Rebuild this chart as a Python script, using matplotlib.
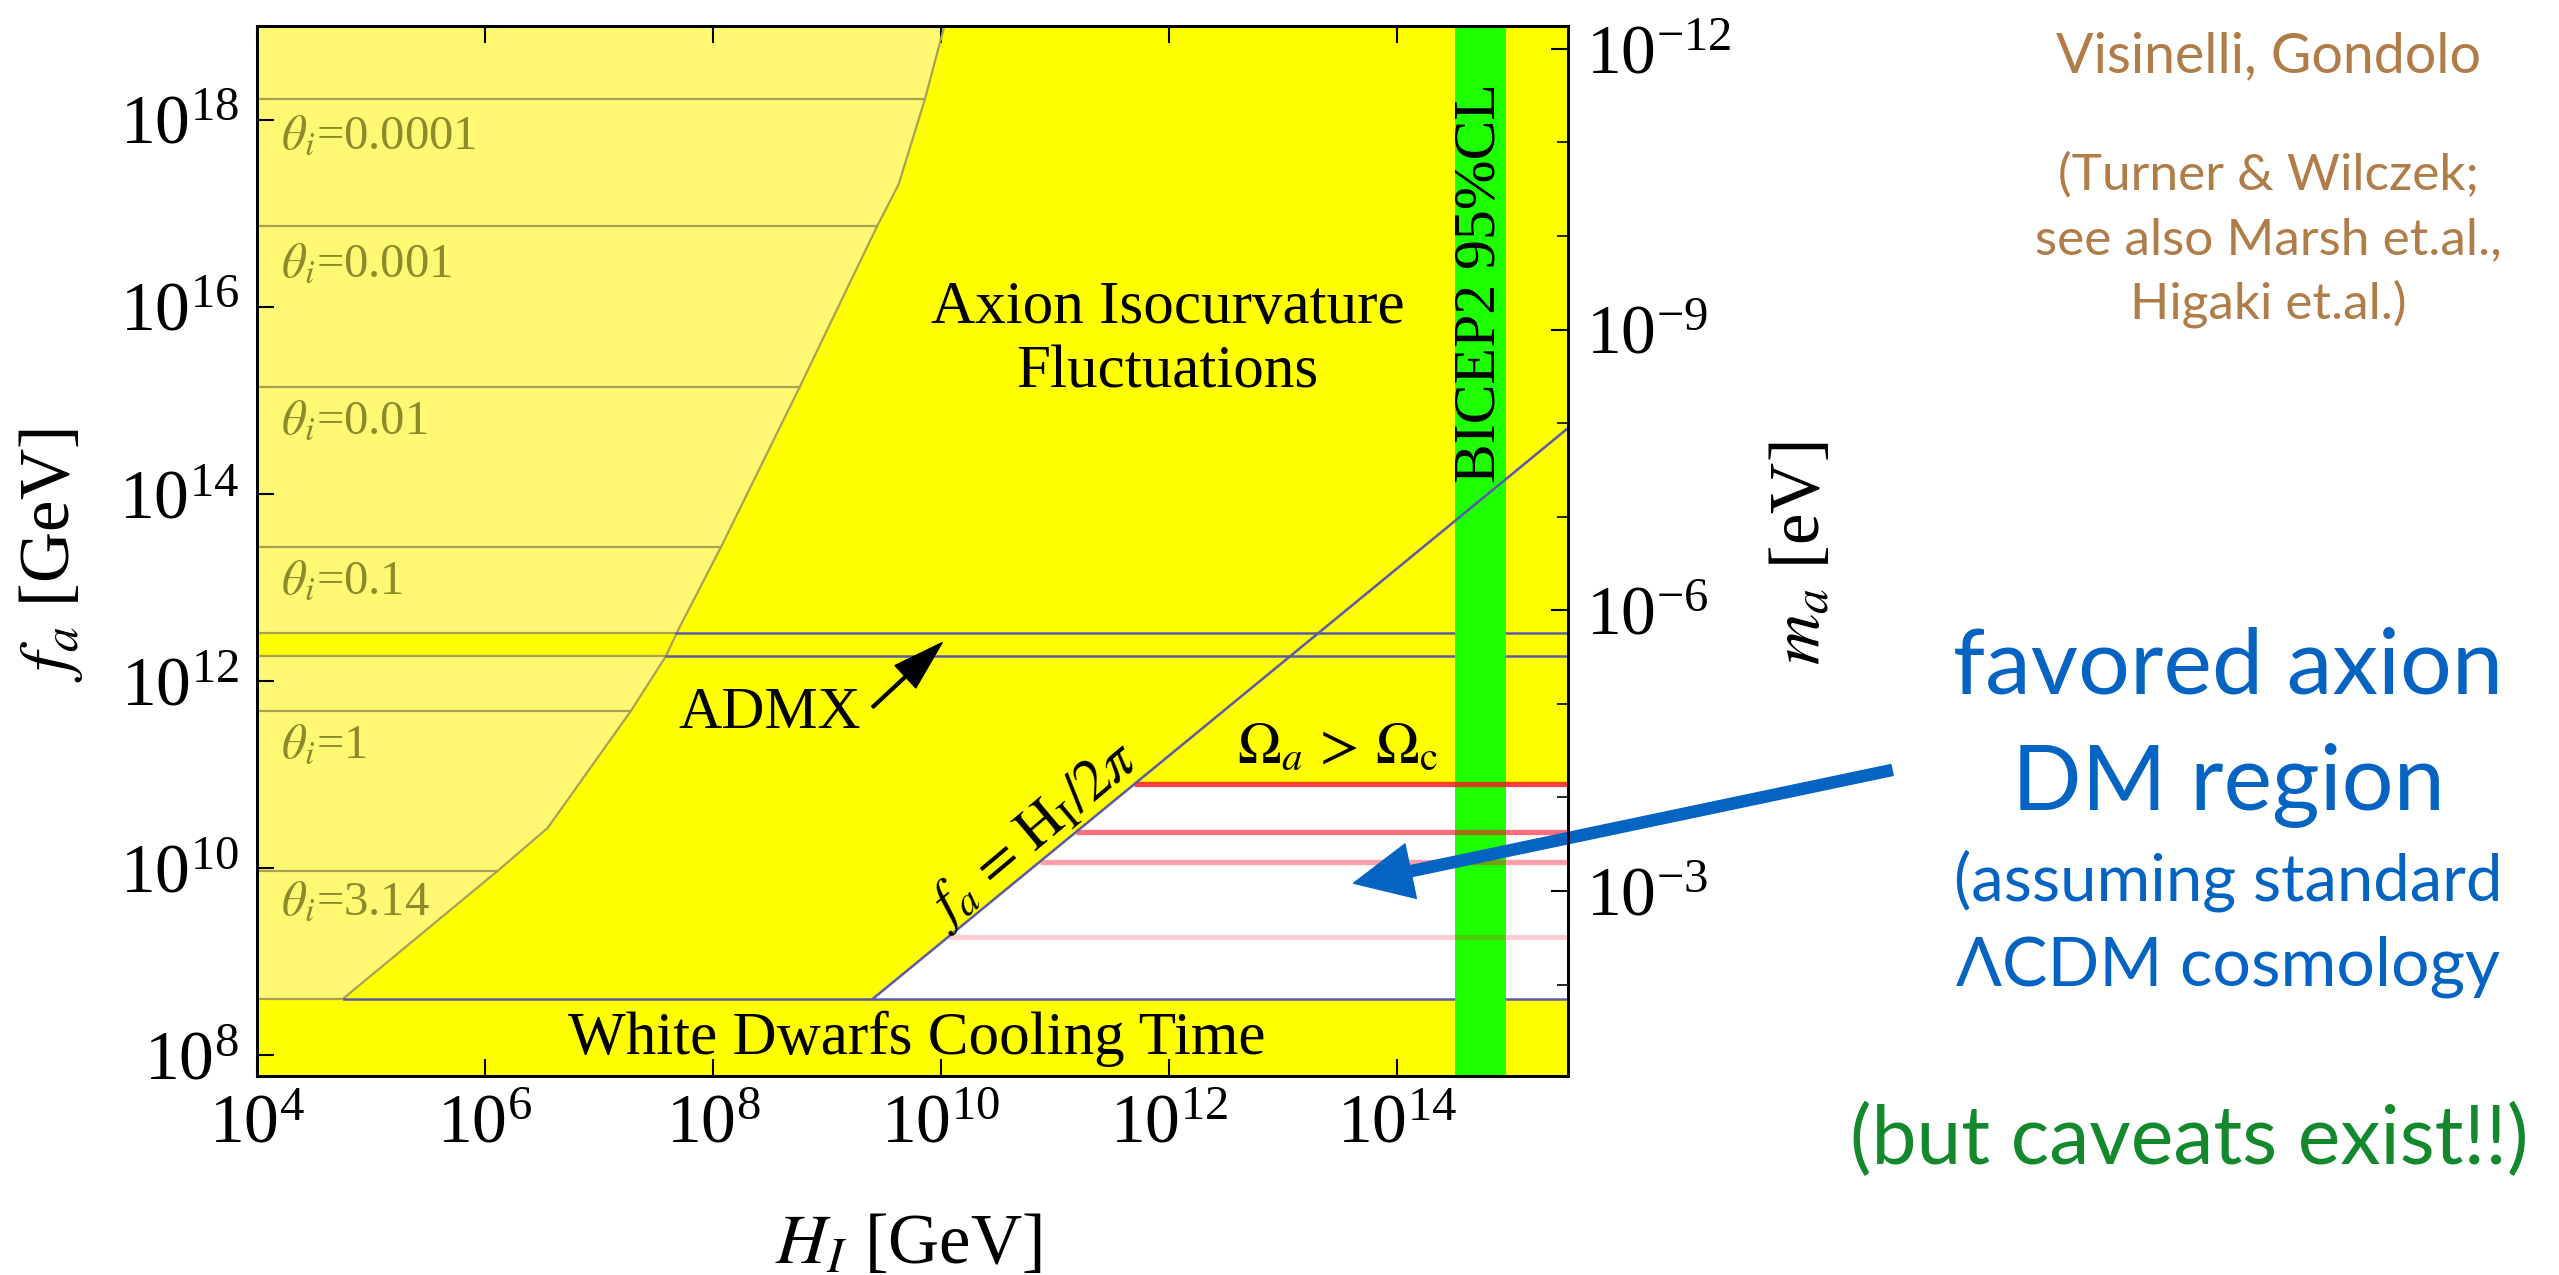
import numpy as np
import matplotlib
matplotlib.use('Agg')
import matplotlib.pyplot as plt
from matplotlib.ticker import FixedLocator, LogFormatterMathtext, NullFormatter, NullLocator

plt.rcParams['font.family'] = 'serif'
plt.rcParams['font.serif'] = ['Liberation Serif', 'DejaVu Serif']
plt.rcParams['mathtext.fontset'] = 'stix'

# Data (log10 of GeV values)

iso_logH = np.array([4.76, 6.11, 6.55, 7.28, 7.59, 7.68, 8.07, 8.76, 9.44, 9.63, 9.86, 10.03])
iso_logf = np.array([8.61, 9.97, 10.43, 11.68, 12.27, 12.51, 13.43, 15.14, 16.86, 17.31, 18.22, 19.0])

theta_labels = ['0.0001', '0.001', '0.01', '0.1', '1', '3.14']
theta_label_logf = [17.82, 16.45, 14.78, 13.06, 11.31, 9.63]
theta_line_logf = [18.22, 16.86, 15.14, 13.43, 11.68, 9.97]
theta_line_endH = [9.86, 9.44, 8.76, 8.07, 7.28, 6.11]

admx_logf = [12.27, 12.51]
admx_endH = [7.59, 7.68]

wd_logf = 8.6
wd_endH = 4.76

omega_logf = [10.90, 10.39, 10.07, 9.26]
omega_alpha = [0.8, 0.6, 0.4, 0.2]

bicep_logH = [14.51, 14.96]

xlim_log = (4.0, 15.5)
ylim_log = (7.78, 19.0)
m_conv = 5.7e6  # m_a [eV] = 5.7e6 / f_a [GeV]
log2pi = np.log10(2 * np.pi)

# Colours
bright = '#FFFF00'
light = '#FFF873'
olive = '#A9A254'
olive_txt = '#8C8A2A'
blue_line = '#5A5AAA'
green = '#1EFF00'

fig = plt.figure(figsize=(25.59, 12.75), dpi=100)
ax = fig.add_axes([0.1004, 0.1561, 0.5123, 0.8235])
ax.set_xscale('log')
ax.set_yscale('log')
ax.set_xlim(10**xlim_log[0], 10**xlim_log[1])
ax.set_ylim(10**ylim_log[0], 10**ylim_log[1])
ax.set_facecolor(bright)

xmin, xmax = 10**xlim_log[0], 10**xlim_log[1]

# light region left of the isocurvature curve
ax.fill_betweenx(10**iso_logf, xmin, 10**iso_logH, color=light, lw=0, zorder=1)
ax.plot(10**iso_logH, 10**iso_logf, color=olive, lw=1.6, zorder=2)

# ADMX band
ax.axhspan(10**admx_logf[0], 10**admx_logf[1], color=bright, lw=0, zorder=1.5)
for lf, eh in zip(admx_logf, admx_endH):
    ax.plot([xmin, 10**eh], [10**lf, 10**lf], color=olive, lw=1.6, zorder=2)
    ax.plot([10**eh, xmax], [10**lf, 10**lf], color=blue_line, lw=1.8, zorder=2)

# theta_i contours
for lf, eh, lab, yl in zip(theta_line_logf, theta_line_endH, theta_labels, theta_label_logf):
    ax.plot([xmin, 10**eh], [10**lf, 10**lf], color=olive, lw=1.6, zorder=2)
    ax.text(10**4.21, 10**yl, r'$\theta_i$=' + lab, color=olive_txt, fontsize=35,
            ha='left', va='center', zorder=5)

# white allowed region
wx = [wd_logf + log2pi, xlim_log[1], xlim_log[1], omega_logf[0] + log2pi]
wy = [wd_logf, wd_logf, omega_logf[0], omega_logf[0]]
ax.fill(10**np.array(wx), 10**np.array(wy), color='white', lw=0, zorder=1)

# white dwarf limit
ax.plot([xmin, 10**wd_endH], [10**wd_logf, 10**wd_logf], color=olive, lw=1.6, zorder=2)
ax.plot([10**wd_endH, xmax], [10**wd_logf, 10**wd_logf], color=blue_line, lw=1.8, zorder=2)

# BICEP2 band
ax.axvspan(10**bicep_logH[0], 10**bicep_logH[1], color=green, lw=0, zorder=2.5)

# Omega_a > Omega_c lines
for lf, a in zip(omega_logf, omega_alpha):
    ax.plot([10**(lf + log2pi), xmax], [10**lf, 10**lf], color=(1, 0.05, 0.15), alpha=a,
            lw=3.8, solid_capstyle='butt', zorder=3)

# f_a = H_I / 2pi
hx = np.array([wd_logf + log2pi, xlim_log[1]])
ax.plot(10**hx, 10**(hx - log2pi), color=blue_line, lw=1.8, zorder=4)

# texts in the plot
ax.text(10**11.99, 10**15.64, 'Axion Isocurvature\nFluctuations', fontsize=44,
        ha='center', va='center', zorder=5)
ax.text(10**9.79, 10**8.02, 'White Dwarfs Cooling Time', fontsize=44,
        ha='center', va='baseline', zorder=5)
ax.text(10**8.5, 10**11.5, 'ADMX', fontsize=43, ha='center', va='baseline', zorder=5)
ax.annotate('', xy=(10**10.01, 10**12.41), xytext=(10**9.40, 10**11.72),
            arrowprops=dict(color='black', width=2, headwidth=22, headlength=36), zorder=5)
ax.text(10**13.48, 10**11.27, r'$\Omega_a\,>\,\Omega_{\rm c}$', fontsize=42,
        ha='center', va='center', zorder=5)
ax.text(10**10.81, 10**10.36, r'$f_a\,=\,\mathrm{H_I}/2\pi$', fontsize=42, rotation=40,
        rotation_mode='anchor', ha='center', va='center', zorder=5)
ax.text(10**14.73, 10**16.25, 'BICEP2 95%CL', fontsize=43, rotation=90,
        ha='center', va='center', zorder=5)

# axes styling
ax.xaxis.set_major_locator(FixedLocator(10.0**np.arange(4, 15, 2)))
ax.xaxis.set_major_formatter(LogFormatterMathtext())
ax.xaxis.set_minor_locator(NullLocator())
ax.yaxis.set_major_locator(FixedLocator(10.0**np.arange(8, 19, 2)))
ax.yaxis.set_major_formatter(LogFormatterMathtext())
ax.yaxis.set_minor_locator(NullLocator())
ax.tick_params(which='major', direction='in', length=12, width=1.5, labelsize=50,
               top=True, right=False, pad=13)
for s in ax.spines.values():
    s.set_linewidth(2)
    s.set_zorder(6)

ax.set_xlabel(r'$H_I$ [GeV]', fontsize=51)
ax.xaxis.set_label_coords(0.497, -0.161)
ax.xaxis.label.set_va('center')
ax.set_ylabel(r'$f_a$ [GeV]', fontsize=51)
ax.yaxis.set_label_coords(-0.157, 0.496)
ax.yaxis.label.set_va('center')
ax.yaxis.label.set_ha('center')

# right axis: axion mass
ax2 = ax.twinx()
ax2.set_yscale('log')
ax2.set_ylim(m_conv / 10**ylim_log[0], m_conv / 10**ylim_log[1])
ax2.yaxis.set_major_locator(FixedLocator([1e-12, 1e-9, 1e-6, 1e-3]))
ax2.yaxis.set_major_formatter(LogFormatterMathtext())
ax2.yaxis.set_minor_locator(FixedLocator(10.0**np.arange(-12, -1)))
ax2.yaxis.set_minor_formatter(NullFormatter())
ax2.tick_params(which='major', direction='in', length=12, width=1.5, labelsize=50, pad=13)
ax2.tick_params(which='minor', direction='in', length=8, width=1.2)
ax2.set_ylabel(r'$m_a$ [eV]', fontsize=51, rotation=90)
ax2.yaxis.set_label_coords(1.178, 0.498)
ax2.yaxis.label.set_va('center')
ax2.yaxis.label.set_ha('center')
for s in ax2.spines.values():
    s.set_linewidth(2)

# big blue arrow from the annotation text
W, H = 2559.0, 1275.0
ax.annotate('', xy=(10**13.62, 10**9.84), xytext=(1892 / W, 1 - 770 / H),
            textcoords='figure fraction', annotation_clip=False,
            arrowprops=dict(color='#0563C1', width=8, headwidth=40, headlength=42), zorder=7)

# slide text on the right
sans = ['Lato', 'DejaVu Sans']
brown = '#B07C48'
for txt, yb, fs in [('Visinelli, Gondolo', 72, 40), ('(Turner & Wilczek;', 190, 37),
                    ('see also Marsh et.al.,', 254, 37), ('Higaki et.al.)', 318, 37)]:
    fig.text(2268 / W, 1 - yb / H, txt, family=sans, fontsize=fs, color=brown,
             ha='center', va='baseline')

blue = '#0563C1'
for txt, yb, fs in [('favored axion', 693, 66), ('DM region', 810, 66),
                    ('(assuming standard', 900, 47), ('ΛCDM cosmology', 986, 49)]:
    fig.text(2228 / W, 1 - yb / H, txt, family=sans, fontsize=fs, color=blue,
             ha='center', va='baseline')

fig.text(2189 / W, 1 - 1164 / H, '(but caveats exist!!)', family=sans, fontsize=58,
         color='#13882C', ha='center', va='baseline')

fig.savefig('out.png', dpi=100)
